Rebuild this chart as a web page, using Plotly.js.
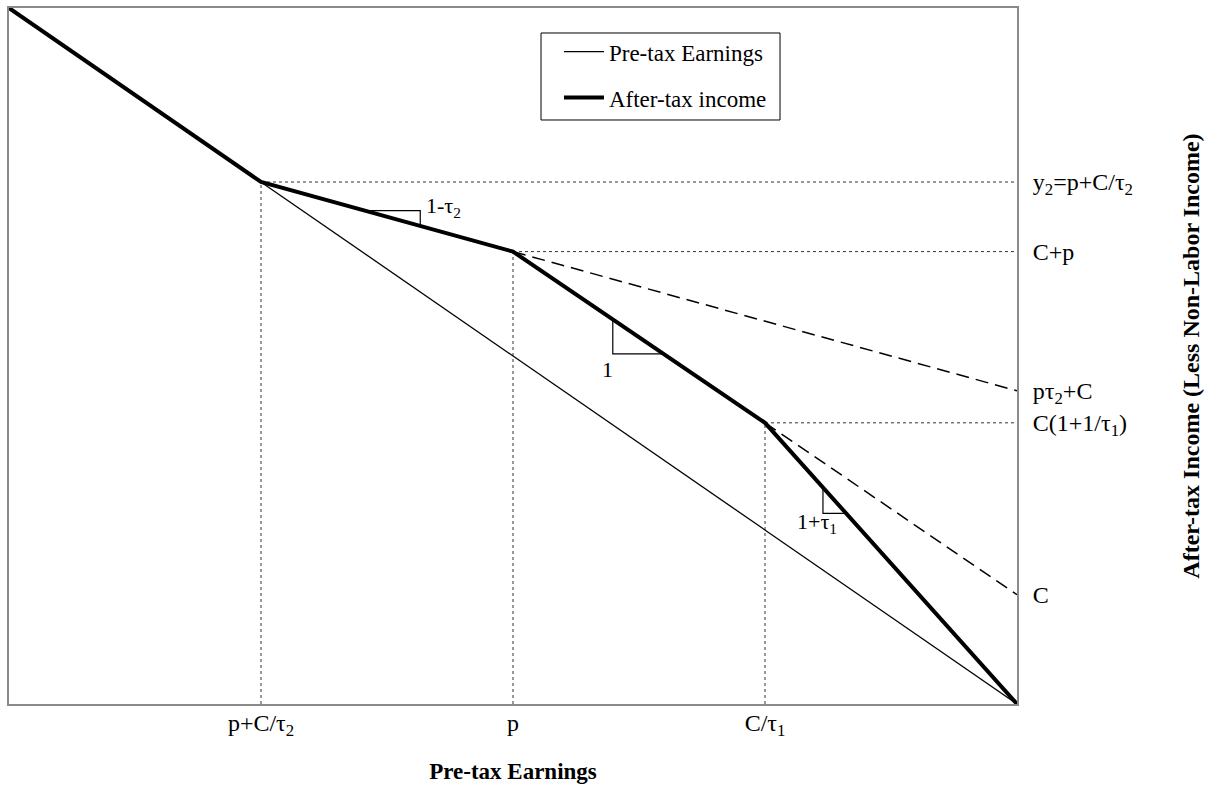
<!DOCTYPE html>
<html><head><meta charset="utf-8">
<script src="https://cdn.plot.ly/plotly-3.0.1.min.js"></script>
<style>body{margin:0;background:#fff}</style>
</head><body><div id="chart" style="width:1210px;height:790px"></div>
<script>
// Schedule points (arbitrary units, 0-100)
const kinkX = [0, 25, 50, 75, 100];
const preTaxY = [100, 75, 50, 25, 0];
const afterTaxY = [100, 75, 65, 40.4, 0];
const dash1X = [50, 100];
const dash1Y = [65, 45];
const dash2X = [75, 100];
const dash2Y = [40.4, 15.7];
const xTickVals = [25, 50, 75];
const xTickText = ['p+C/τ<sub>2</sub>', 'p', 'C/τ<sub>1</sub>'];
const yTickVals = [75, 65, 45, 40.4, 15.7];
const yTickText = ['y<sub>2</sub>=p+C/τ<sub>2</sub>', 'C+p', 'pτ<sub>2</sub>+C', 'C(1+1/τ<sub>1</sub>)', 'C'];
// slope triangles
const tri1X = [35.2, 40.8, 40.8];
const tri1Y = [70.9, 70.9, 68.7];
const tri2X = [59.9, 59.9, 64.9];
const tri2Y = [55.1, 50.3, 50.3];
const tri3X = [80.75, 80.75, 83.0];
const tri3Y = [30.9, 27.4, 27.4];
const slopeLabels = ['1-τ<sub>2</sub>', '1', '1+τ<sub>1</sub>'];
const slopeLabelX = [41.2, 59.4, 80.2];
const slopeLabelY = [71.4, 48.0, 26.0];

const FONT = "'Liberation Serif', 'Times New Roman', serif";

// dotted guide lines from the inner kinks
const gvX = [], gvY = [], ghX = [], ghY = [];
for (let i = 1; i <= 3; i++) {
  gvX.push(kinkX[i], kinkX[i], null); gvY.push(0, afterTaxY[i], null);
  ghX.push(kinkX[i], 100, null); ghY.push(afterTaxY[i], afterTaxY[i], null);
}

const traces = [
  {x: gvX, y: gvY, mode: 'lines', line: {color: '#333', width: 1, dash: 'dot'}, showlegend: false, hoverinfo: 'skip'},
  {x: ghX, y: ghY, mode: 'lines', line: {color: '#333', width: 1, dash: 'dot'}, showlegend: false, hoverinfo: 'skip'},
  {x: dash1X, y: dash1Y, mode: 'lines', line: {color: '#000', width: 1.5, dash: '13px,7px'}, showlegend: false},
  {x: dash2X, y: dash2Y, mode: 'lines', line: {color: '#000', width: 1.5, dash: '13px,7px'}, showlegend: false},
  {x: tri1X, y: tri1Y, mode: 'lines', line: {color: '#000', width: 1.2}, showlegend: false},
  {x: tri2X, y: tri2Y, mode: 'lines', line: {color: '#000', width: 1.2}, showlegend: false},
  {x: tri3X, y: tri3Y, mode: 'lines', line: {color: '#000', width: 1.2}, showlegend: false},
  {x: kinkX, y: preTaxY, mode: 'lines', name: 'Pre-tax Earnings', legendgroup: 'a', line: {color: '#000', width: 1.3}},
  {x: kinkX, y: afterTaxY, mode: 'lines', name: 'After-tax income', legendgroup: 'b', line: {color: '#000', width: 4}}
];

const annotations = slopeLabels.map((t, i) => ({
  x: slopeLabelX[i], y: slopeLabelY[i], xref: 'x', yref: 'y', text: t, showarrow: false,
  xanchor: i === 0 ? 'left' : 'center', yanchor: 'middle',
  font: {family: FONT, size: 22, color: '#000'}
}));

const layout = {
  width: 1210, height: 790,
  margin: {l: 9, r: 193, t: 8, b: 86},
  paper_bgcolor: '#fff', plot_bgcolor: '#fff',
  font: {family: FONT, size: 22, color: '#000'},
  xaxis: {
    range: [0, 100], showgrid: false, zeroline: false,
    showline: true, mirror: true, linecolor: '#8a8a8a', linewidth: 2,
    tickvals: xTickVals, ticktext: xTickText, ticks: '', ticklabelstandoff: -4,
    tickfont: {family: FONT, size: 24, color: '#000'},
    title: {text: '<b>Pre-tax Earnings</b>', font: {family: FONT, size: 23, color: '#000'}, standoff: 24}
  },
  yaxis: {
    range: [0, 100], side: 'right', showgrid: false, zeroline: false,
    showline: true, mirror: true, linecolor: '#8a8a8a', linewidth: 2,
    tickvals: yTickVals, ticktext: yTickText, ticks: '', ticklabelstandoff: 9,
    tickfont: {family: FONT, size: 24, color: '#000'},
    title: {text: '<b>After-tax Income (Less Non-Labor Income)</b>', font: {family: FONT, size: 24, color: '#000'}, standoff: 50}
  },
  legend: {
    x: 0.5456, y: 0.968, xanchor: 'left', yanchor: 'top',
    borderwidth: 0, bgcolor: 'rgba(0,0,0,0)',
    traceorder: 'grouped', tracegroupgap: 13, itemwidth: 40,
    font: {family: FONT, size: 23, color: '#000'}
  },
  shapes: [{
    type: 'rect', xref: 'paper', yref: 'paper',
    x0: 0.5278, x1: 0.7649, y0: 0.8391, y1: 0.9641,
    line: {color: '#000', width: 1}, fillcolor: 'rgba(0,0,0,0)', layer: 'above'
  }],
  annotations: annotations,
  showlegend: true
};

Plotly.newPlot('chart', traces, layout, {displayModeBar: false, staticPlot: true});
</script>
</body></html>
